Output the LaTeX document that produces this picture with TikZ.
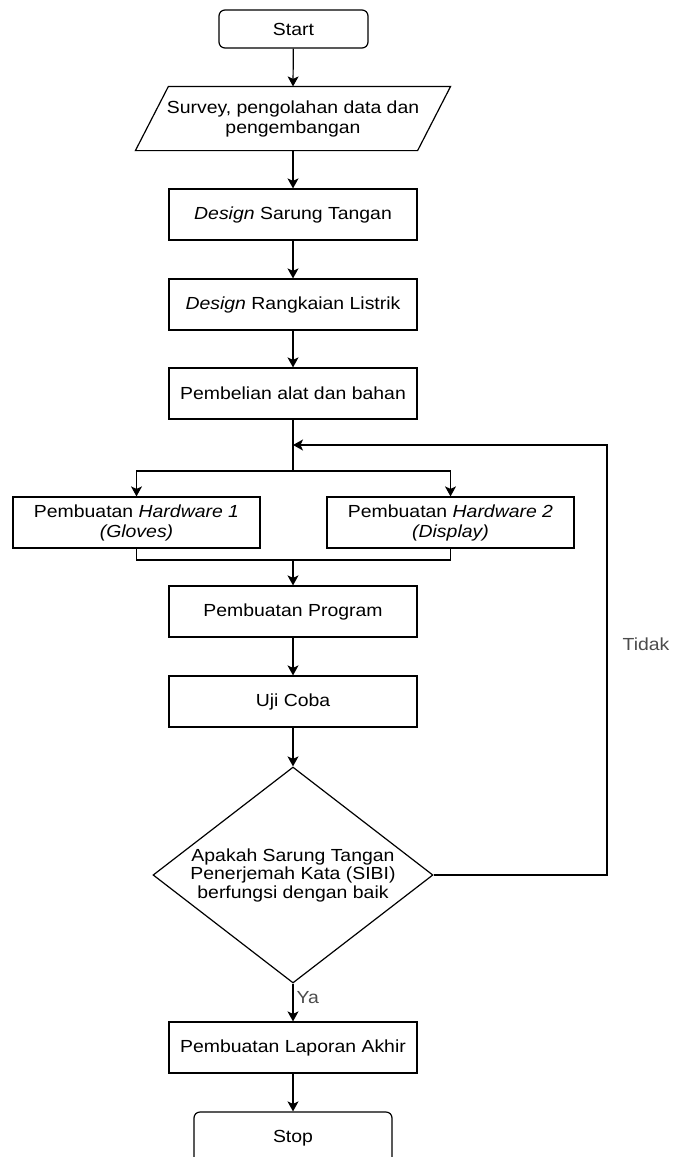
\documentclass[tikz,border=0pt]{standalone}
\usepackage{fontspec}
\setmainfont[FakeStretch=1.11]{Liberation Sans}
\usetikzlibrary{arrows.meta,shapes.geometric}
\tikzset{every picture/.style={>={Stealth[length=10pt,width=11pt,inset=2.5pt]},line width=1.2pt,x=1pt,y=-1pt,font=\fontsize{17.5}{20}\selectfont},
  proc/.style={draw,rectangle,minimum width=248pt,minimum height=51pt,inner sep=0pt,align=center},
  term/.style={proc,rounded corners=6pt,minimum width=149pt,minimum height=38pt},
  io/.style={rectangle,minimum width=281pt,minimum height=63pt,inner sep=0pt,align=center},
  dec/.style={draw,diamond,minimum width=280pt,minimum height=216pt,inner sep=0pt},
  lbl/.style={text=black!70,inner sep=3pt}}

\begin{document}
\begin{tikzpicture}
      \useasboundingbox (0,0) rectangle (673,1157);
      \node[term] (start) at (293.5,29) {Start};
      \node[io] (survey) at (293,118.5) {Survey, pengolahan data dan\\pengembangan};
      \draw ([xshift=16.5pt]survey.north west) -- ([xshift=16.5pt]survey.north east) -- ([xshift=-16.5pt]survey.south east) -- ([xshift=-16.5pt]survey.south west) -- cycle;
      \node[proc] (glove) at (293,214.5) {\textit{Design} Sarung Tangan};
      \node[proc] (circuit) at (293,304.5) {\textit{Design} Rangkaian Listrik};
      \node[proc] (buy) at (293,393.5) {Pembelian alat dan bahan};
      \coordinate (loop) at (293,445);
      \coordinate (fork) at (293,471);
      \node[proc,minimum width=247pt] (hw1) at (136.5,522.5) {Pembuatan \textit{Hardware 1}\\\textit{(Gloves)}};
      \node[proc,minimum width=247pt] (hw2) at (450.5,522.5) {Pembuatan \textit{Hardware 2}\\\textit{(Display)}};
      \coordinate (join) at (293,560);
      \node[proc] (prog) at (293,611.5) {Pembuatan Program};
      \node[proc] (test) at (293,701.5) {Uji Coba};
      \node[dec,label={[align=center,font=\fontsize{17.5}{18.5}\selectfont]center:Apakah Sarung Tangan\\Penerjemah Kata (SIBI)\\berfungsi dengan baik}] (ok) at (293,875) {};
      \node[proc] (report) at (293,1047.5) {Pembuatan Laporan Akhir};
      \node[term,minimum width=198pt,minimum height=52pt] (stop) at (293,1138) {Stop};
      \coordinate (turn) at (607,445);
      \node[lbl] (tidak) at (646,644) {Tidak};
      \draw[->] (start) -- (survey.north);
      \draw[->] (survey) -- (glove);
      \draw[->] (glove) -- (circuit);
      \draw[->] (circuit) -- (buy);
      \draw (buy) -- (fork);
      \draw[->] (fork) -| (hw1);
      \draw[->] (fork) -| (hw2);
      \draw (hw1.south) |- (join) -| (hw2.south);
      \draw[->] (join) -- (prog);
      \draw[->] (prog) -- (test);
      \draw[->] (test) -- (ok);
      \draw[->] (ok) -- (report) node[lbl,pos=0.36,right] {Ya};
      \draw[->] (report) -- (stop);
      \draw[->] (ok.east) -| (turn) -- (loop);
    \end{tikzpicture}
\end{document}
